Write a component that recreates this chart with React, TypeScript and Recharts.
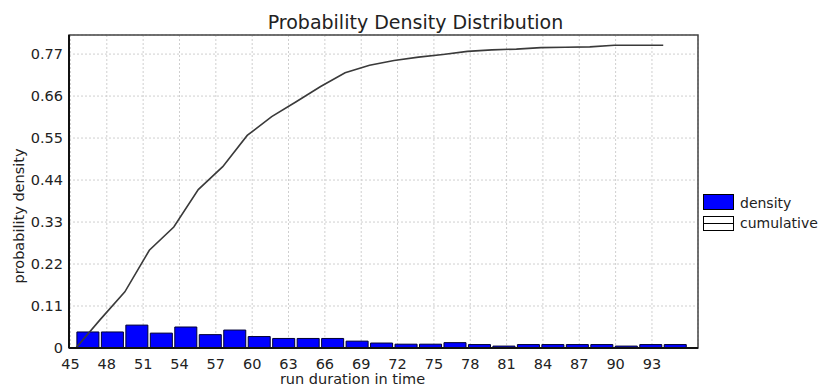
import { ComposedChart, Bar, Line, XAxis, YAxis, CartesianGrid, ReferenceArea } from 'recharts';

// histogram bins (left edge of each bin, all bins are the same width)
const binStarts = [
  45.45, 47.47, 49.49, 51.51, 53.53, 55.55, 57.57, 59.59, 61.61, 63.63, 65.65, 67.67, 69.69,
  71.71, 73.73, 75.75, 77.77, 79.79, 81.81, 83.83, 85.85, 87.87, 89.89, 91.91, 93.93,
];
const binWidth = 2.02;

const density = [
  0.042, 0.042, 0.06, 0.039, 0.055, 0.035, 0.047, 0.03, 0.025, 0.025, 0.025, 0.018, 0.013,
  0.01, 0.01, 0.014, 0.009, 0.005, 0.009, 0.009, 0.009, 0.009, 0.005, 0.009, 0.009,
];

// cumulative curve, one point at the start of each bin
const cumulative = [
  0, 0.075, 0.147, 0.256, 0.317, 0.415, 0.475, 0.557, 0.606, 0.645, 0.685, 0.721, 0.741,
  0.753, 0.762, 0.769, 0.777, 0.781, 0.783, 0.787, 0.788, 0.789, 0.793, 0.793, 0.793,
];

const xTicks = [45, 48, 51, 54, 57, 60, 63, 66, 69, 72, 75, 78, 81, 84, 87, 90, 93];
const yTicks = [0, 0.11, 0.22, 0.33, 0.44, 0.55, 0.66, 0.77];

const X_MIN = 44.88;
const X_MAX = 96.8;
const Y_MAX = 0.82;

const PLOT_LEFT = 69;
const PLOT_RIGHT = 698;
const FONT = '"DejaVu Sans", Tahoma, sans-serif';

const barData = binStarts.map((s, i) => ({ x: s + binWidth / 2, density: density[i] }));
const lineData = binStarts.map((s, i) => ({ x: s, cumulative: cumulative[i] }));

// bar width in px so neighbouring bins touch
const barPx = (binWidth * (PLOT_RIGHT - PLOT_LEFT)) / (X_MAX - X_MIN);

const tickStyle = { fill: '#222', fontSize: 14.5, fontFamily: FONT };

function LegendBox() {
  return (
    <svg width={123} height={50} style={{ position: 'absolute', left: 700, top: 190 }}>
      <rect x={3.5} y={4.5} width={30} height={15} fill="#0000ff" stroke="#000" />
      <text x={40} y={13} fontSize={14} fontFamily={FONT} fill="#222" dominantBaseline="central">
        density
      </text>
      <rect x={3.5} y={26.5} width={30} height={14} fill="#fff" stroke="#000" />
      <line x1={3.5} x2={33.5} y1={33.5} y2={33.5} stroke="#000" />
      <text x={40} y={33} fontSize={14} fontFamily={FONT} fill="#222" dominantBaseline="central">
        cumulative
      </text>
    </svg>
  );
}

export default function App() {
  return (
    <div style={{ position: 'absolute', left: 0, top: 0, width: 823, height: 389, background: '#fff' }}>
      <div
        style={{
          position: 'absolute',
          left: 0,
          top: 13,
          width: 831,
          textAlign: 'center',
          fontFamily: FONT,
          fontSize: 19,
          lineHeight: '19px',
          color: '#222',
        }}
      >
        Probability Density Distribution
      </div>
      <ComposedChart
        width={823}
        height={389}
        data={barData}
        margin={{ top: 35, right: 823 - PLOT_RIGHT, bottom: 0, left: 0 }}
      >
        <CartesianGrid strokeDasharray="2 2" stroke="#cfcfcf" />
        <ReferenceArea
          x1={X_MIN}
          x2={X_MAX}
          y1={0}
          y2={Y_MAX}
          fill="none"
          stroke="#444"
          strokeWidth={1.5}
          ifOverflow="visible"
        />
        <XAxis
          dataKey="x"
          type="number"
          domain={[X_MIN, X_MAX]}
          allowDataOverflow
          ticks={xTicks}
          interval={0}
          height={41}
          tickLine={false}
          tickSize={0}
          tickMargin={11}
          axisLine={{ stroke: '#111', strokeWidth: 2 }}
          tick={tickStyle}
          label={{
            value: 'run duration in time',
            position: 'insideBottom',
            offset: 5,
            dx: -31,
            fill: '#222',
            fontSize: 14.5,
            fontFamily: FONT,
          }}
        />
        {/* separate hidden axis for the curve so its points don't narrow the bars */}
        <XAxis xAxisId="curve" dataKey="x" type="number" domain={[X_MIN, X_MAX]} allowDataOverflow hide />
        <YAxis
          type="number"
          domain={[0, Y_MAX]}
          allowDataOverflow
          ticks={yTicks}
          interval={0}
          width={PLOT_LEFT}
          tickLine={false}
          tickSize={0}
          tickMargin={6}
          axisLine={{ stroke: '#111', strokeWidth: 2 }}
          tick={tickStyle}
          tickFormatter={(v: number) => (v === 0 ? '0' : v.toFixed(2))}
          label={{
            value: 'probability density',
            angle: -90,
            position: 'center',
            dx: -16,
            dy: 24.5,
            fill: '#222',
            fontSize: 14.5,
            fontFamily: FONT,
          }}
        />
        <Bar
          dataKey="density"
          fill="#0000ff"
          stroke="#000033"
          strokeWidth={1}
          barSize={barPx}
          isAnimationActive={false}
        />
        <Line
          xAxisId="curve"
          data={lineData}
          dataKey="cumulative"
          type="linear"
          stroke="#3a3a3a"
          strokeWidth={1.6}
          dot={false}
          isAnimationActive={false}
        />
      </ComposedChart>
      <LegendBox />
    </div>
  );
}
